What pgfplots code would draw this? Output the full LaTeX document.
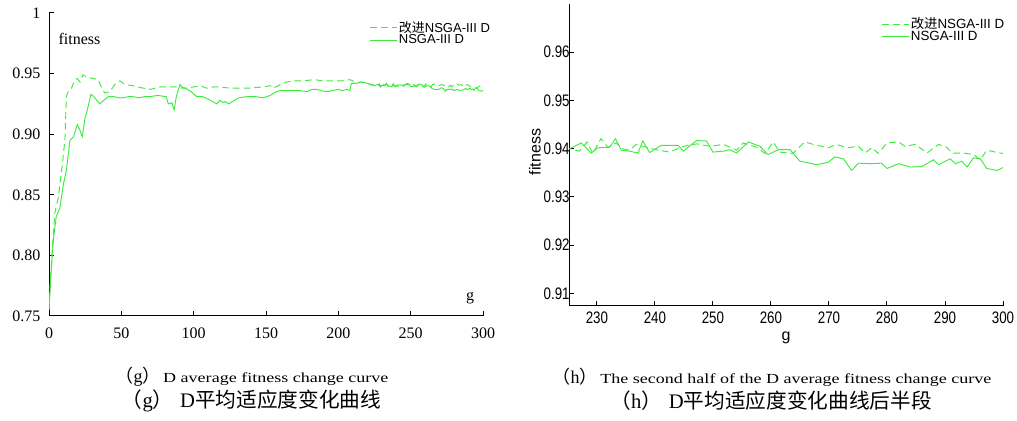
\documentclass[border=0pt]{standalone}
\usepackage{fontspec}
\usepackage{pgfplots}
\usepackage{pgfplotstable}
\pgfplotsset{compat=1.18}
\setmainfont{Liberation Serif}
\newfontfamily\serif{Liberation Serif}
\newfontfamily\capfont[FakeStretch=1.3]{Liberation Serif}
\newfontfamily\sansf{Liberation Sans}
\newfontfamily\sansn[FakeStretch=0.8]{Liberation Sans}
\newfontfamily\cjk{Noto Sans CJK SC}
\definecolor{lg}{RGB}{60,235,60}

\pgfplotstableread{
g v
0 0.755
1 0.777
3 0.813
5 0.832
7.5 0.839
10 0.859
12 0.870
14.5 0.895
17 0.898
19.5 0.908
21.5 0.903
23 0.898
25 0.914
26.5 0.920
29 0.933
31 0.931
35 0.925
38 0.928
41 0.931
45 0.931
48 0.930
51 0.930
55 0.931
58 0.931
62 0.930
66 0.931
70 0.931
75 0.932
81 0.931
82.5 0.925
85 0.926
86.5 0.920
88 0.931
90.5 0.941
92 0.939
94 0.938
98.5 0.935
102 0.931
106 0.931
110 0.929
113 0.927
116 0.925
118 0.928
120.5 0.926
122 0.927
124 0.925
127 0.927
131 0.930
137 0.931
143 0.931
148 0.930
153 0.932
157 0.935
160 0.936
164 0.936
170 0.936
174 0.936
178 0.935
182 0.937
185 0.937
188 0.936
192 0.935
196 0.936
200 0.937
203 0.936
206 0.937
208 0.936
209 0.942
213 0.942
216 0.943
220 0.942
223 0.9405
225.3 0.9400
227.3 0.9412
229.0 0.9391
230.2 0.9402
232.2 0.9403
233.2 0.9421
234.2 0.9397
235.6 0.9395
237.1 0.9391
237.9 0.9416
239.1 0.9392
241.1 0.9407
243.1 0.9407
244.0 0.9407
244.9 0.9395
247.2 0.9417
248.9 0.9416
250.0 0.9393
251.8 0.9395
252.9 0.9398
254.1 0.9391
256.1 0.9414
258.1 0.9405
259.5 0.9388
261.3 0.9398
263.3 0.9398
265.0 0.9374
267.9 0.9367
269.9 0.9372
271.0 0.9383
272.5 0.9379
273.9 0.9355
275.1 0.9370
277.1 0.9369
279.1 0.9370
280.0 0.9359
282.0 0.9369
284.0 0.9362
286.0 0.9363
288.0 0.9377
288.9 0.9367
290.9 0.9379
291.8 0.9369
292.9 0.9374
293.8 0.9362
294.9 0.9381
296.1 0.9379
297.2 0.9359
299.0 0.9355
300.0 0.9361
}\solid

\pgfplotstableread{
g v
0 0.755
1 0.780
2 0.800
4 0.835
6.5 0.848
9 0.873
11 0.895
12 0.931
13.5 0.936
15.5 0.938
18 0.945
19.5 0.946
21.5 0.943
23.5 0.949
26 0.947
30.5 0.946
34 0.945
36.5 0.938
38.5 0.934
42 0.935
45.5 0.941
49 0.944
52.5 0.941
58 0.940
65 0.938
70 0.937
77 0.939
86 0.939
89 0.939
92 0.938
95 0.938
100 0.939
104 0.940
109 0.938
114 0.939
118 0.939
125 0.938
132 0.938
139 0.938
148 0.939
153 0.940
155 0.938
160 0.941
164 0.943
169 0.944
176 0.944
183 0.945
190 0.944
196.5 0.944
202 0.944
208 0.945
212 0.943
216 0.943
220 0.942
223 0.941
225.3 0.9400
227.0 0.9395
228.3 0.9414
229.3 0.9390
230.7 0.9421
231.9 0.9403
233.3 0.9412
234.5 0.9400
235.6 0.9397
236.8 0.9409
237.9 0.9405
240.2 0.9398
242.5 0.9393
244.9 0.9405
247.2 0.9410
249.5 0.9405
251.8 0.9409
254.1 0.9397
255.2 0.9412
257.5 0.9403
259.0 0.9390
260.4 0.9414
261.5 0.9393
263.8 0.9390
265.8 0.9414
267.9 0.9407
269.9 0.9402
271.3 0.9409
273.1 0.9402
275.1 0.9405
276.2 0.9391
277.4 0.9402
278.5 0.9390
280.0 0.9412
282.0 0.9414
283.1 0.9405
284.9 0.9409
286.9 0.9391
288.9 0.9409
290.3 0.9403
291.2 0.9391
293.2 0.9391
294.9 0.9388
296.1 0.9377
297.2 0.9397
298.7 0.9393
300.0 0.9390
}\dashed

\pgfplotsset{
  figbase/.style={
    scale only axis,
    anchor=south west,
    axis x line*=bottom,
    axis y line*=left,
    tick align=inside,
    major tick length=4pt,
    tick style={black, line width=0.75pt},
    axis line style={black, line width=0.75pt},
    /pgf/number format/assume math mode=true,
    legend cell align=left,
    legend image code/.code={\draw[##1] (0pt,0pt) -- (20pt,0pt);},
    legend style={draw=none, fill=none, inner sep=0pt, outer sep=0pt,
      row sep=-1.5pt, nodes={inner sep=1pt},
      /tikz/every even column/.style={column sep=0pt}},
  },
  dline/.style={lg, line width=0.7pt, dash pattern=on 5pt off 3pt},
  sline/.style={lg, line width=0.7pt},
}

\begin{document}
\begin{tikzpicture}
\useasboundingbox (0,0) rectangle (762.75pt,315.75pt);

% left panel
\begin{axis}[figbase,
  at={(36.75pt,78.75pt)}, width=325.5pt, height=227.25pt,
  xmin=0, xmax=300, ymin=0.75, ymax=1,
  xtick={0,50,100,150,200,250,300},
  xticklabels={0,50,100,150,200,250,300},
  ytick={0.75,0.8,0.85,0.9,0.95,1},
  yticklabels={0.75,0.80,0.85,0.90,0.95,\raisebox{-5pt}{1}},
  ticklabel style={font=\serif\fontsize{12}{12}\selectfont},
  yticklabel style={xshift=-3pt},
  xticklabel style={yshift=-5.5pt},
  legend style={at={(0.7396,0.977)}, anchor=north west,
    font=\sansf\fontsize{9.75}{10}\selectfont},
]
\addplot[dline] table[x=g,y=v] {\dashed};
\addlegendentry{{\cjk 改进}NSGA-III D}
\addplot[sline] table[x=g,y=v] {\solid};
\addlegendentry{NSGA-III D}
\end{axis}
\node[font=\serif\fontsize{12}{12}\selectfont] at (59.6pt,286.5pt) {fitness};
\node[font=\serif\fontsize{12}{12}\selectfont] at (352.5pt,92pt) {g};

% right panel
\begin{axis}[figbase,
  at={(426.75pt,86.25pt)}, width=325.5pt, height=226.5pt,
  xmin=225.2, xmax=300, ymin=0.9074, ymax=0.97,
  xtick={230,240,...,300},
  xticklabels={230,240,250,260,270,280,290,300},
  ytick={0.91,0.92,0.93,0.94,0.95,0.96},
  yticklabels={0.91,0.92,0.93,0.94,0.95,0.96},
  ticklabel style={font=\sansn\fontsize{12.5}{13}\selectfont},
  yticklabel style={xshift=4pt},
  xticklabel style={yshift=-1pt},
  legend style={at={(0.721,0.96)}, anchor=north west,
    font=\sansf\fontsize{10}{11}\selectfont},
]
\addplot[dline] table[x=g,y=v] {\dashed};
\addlegendentry{{\cjk 改进}NSGA-III D}
\addplot[sline] table[x=g,y=v] {\solid};
\addlegendentry{NSGA-III D}
\end{axis}
\node[font=\sansf\fontsize{12}{12}\selectfont, rotate=90] at (401.25pt,201.75pt) {fitness};
\node[font=\sansf\fontsize{12}{12}\selectfont] at (589.5pt,62.25pt) {g};

% captions
\node at (189pt,33pt) {{\cjk\fontsize{13.5}{14}\selectfont （}{\serif\fontsize{13.5}{14}\selectfont g}{\cjk\fontsize{13.5}{14}\selectfont ）}\hspace{2pt}{\capfont\fontsize{10.4}{11}\selectfont D average fitness change curve}};
\node at (579pt,33pt) {{\cjk\fontsize{13.5}{14}\selectfont （}{\serif\fontsize{13.5}{14}\selectfont h}{\cjk\fontsize{13.5}{14}\selectfont ）}\hspace{2pt}{\capfont\fontsize{10.4}{11}\selectfont The second half of the D average fitness change curve}};
\node at (188.6pt,15pt) {\fontsize{15.5}{16}\selectfont{\cjk （}{\serif g}{\cjk ）}\hspace{5pt}{\serif D}{\cjk 平均适应度变化曲线}};
\node at (578.3pt,15pt) {\fontsize{15.5}{16}\selectfont{\cjk （}{\serif h}{\cjk ）}\hspace{5pt}{\serif D}{\cjk 平均适应度变化曲线后半段}};
\end{tikzpicture}
\end{document}
